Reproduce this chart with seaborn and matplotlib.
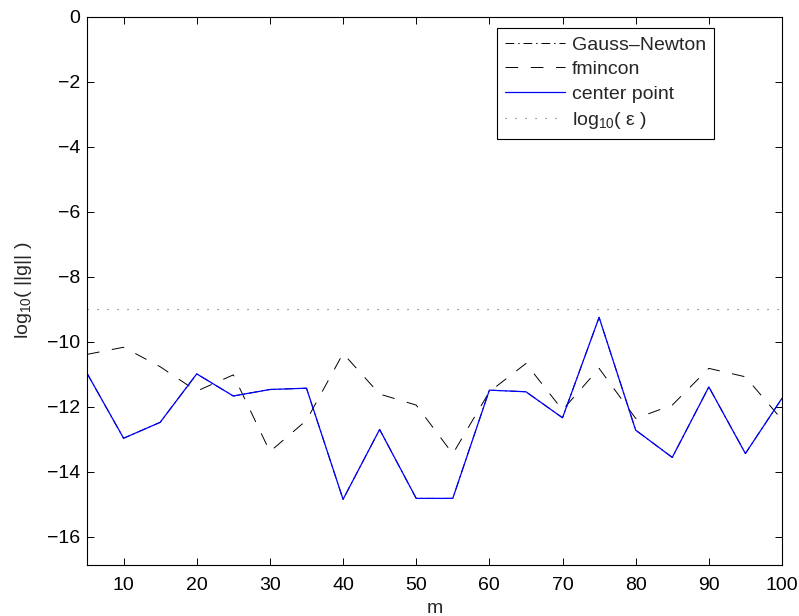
import numpy as np
import pandas as pd
import matplotlib
matplotlib.use('Agg')
import matplotlib.pyplot as plt
import seaborn as sns

# values
m = list(range(5, 101, 5))
center_point = [-10.97, -12.97, -12.48, -10.99, -11.67, -11.47, -11.43, -14.85, -12.70, -14.82,
                -14.82, -11.49, -11.54, -12.34, -9.25, -12.72, -13.56, -11.39, -13.44, -11.74]
gauss_newton = list(center_point)  # hidden under the blue line
fmincon = [-10.39, -10.17, -10.77, -11.52, -11.02, -13.38, -12.42, -10.36, -11.61, -11.95,
           -13.45, -11.54, -10.67, -12.10, -10.82, -12.36, -11.95, -10.82, -11.08, -12.40]
log_eps = -9.0

df = pd.DataFrame({'m': m, 'gn': gauss_newton, 'fm': fmincon, 'cp': center_point})

sns.set_style('white')
plt.rcParams['font.family'] = ['Liberation Sans', 'DejaVu Sans']
plt.rcParams['mathtext.default'] = 'regular'
plt.rcParams['font.size'] = 14

fig = plt.figure(figsize=(7.99, 6.16), dpi=100)
ax = fig.add_axes([0.1089, 0.0833, 0.8698, 0.8896])

sns.lineplot(data=df, x='m', y='gn', ax=ax, color='black', lw=0.7, label='Gauss\u2013Newton')
ax.lines[-1].set_dashes([9, 4, 1.5, 4])
sns.lineplot(data=df, x='m', y='fm', ax=ax, color='black', lw=0.7, label='fmincon')
ax.lines[-1].set_dashes([13, 13])
sns.lineplot(data=df, x='m', y='cp', ax=ax, color='#0000ff', lw=0.9, label='center point')
eps_line = ax.axhline(log_eps, color='0.35', lw=0.8, label='log$_{10}$( \u03b5 )')
eps_line.set_dashes([1, 8])

ax.set_xlim(5, 100)
ax.set_ylim(-16.86, 0)
ax.set_xticks(range(10, 101, 10))
ax.set_yticks(range(-16, 1, 2))
ax.set_yticklabels(['\u2212%d' % -v if v < 0 else '%d' % v for v in range(-16, 1, 2)])
ax.set_xlabel('m', labelpad=4)
ax.set_ylabel('log$_{10}$( ||g|| )', labelpad=9)

ax.tick_params(direction='in', length=5, width=0.7, top=True, right=True,
               bottom=True, left=True, labelsize=14, colors='black', pad=5)
ax.tick_params(axis='x', pad=9)
for s in ax.spines.values():
    s.set_visible(True)
    s.set_color('black')
    s.set_linewidth(0.8)

leg = ax.legend(loc='upper left', bbox_to_anchor=(0.59, 0.979), frameon=True,
                fancybox=False, edgecolor='black', framealpha=1, fontsize=14,
                handlelength=3.1, handletextpad=0.35, labelspacing=0.36,
                borderpad=0.4, borderaxespad=0)
leg.get_frame().set_linewidth(0.8)

fig.savefig('out.png', dpi=100)
